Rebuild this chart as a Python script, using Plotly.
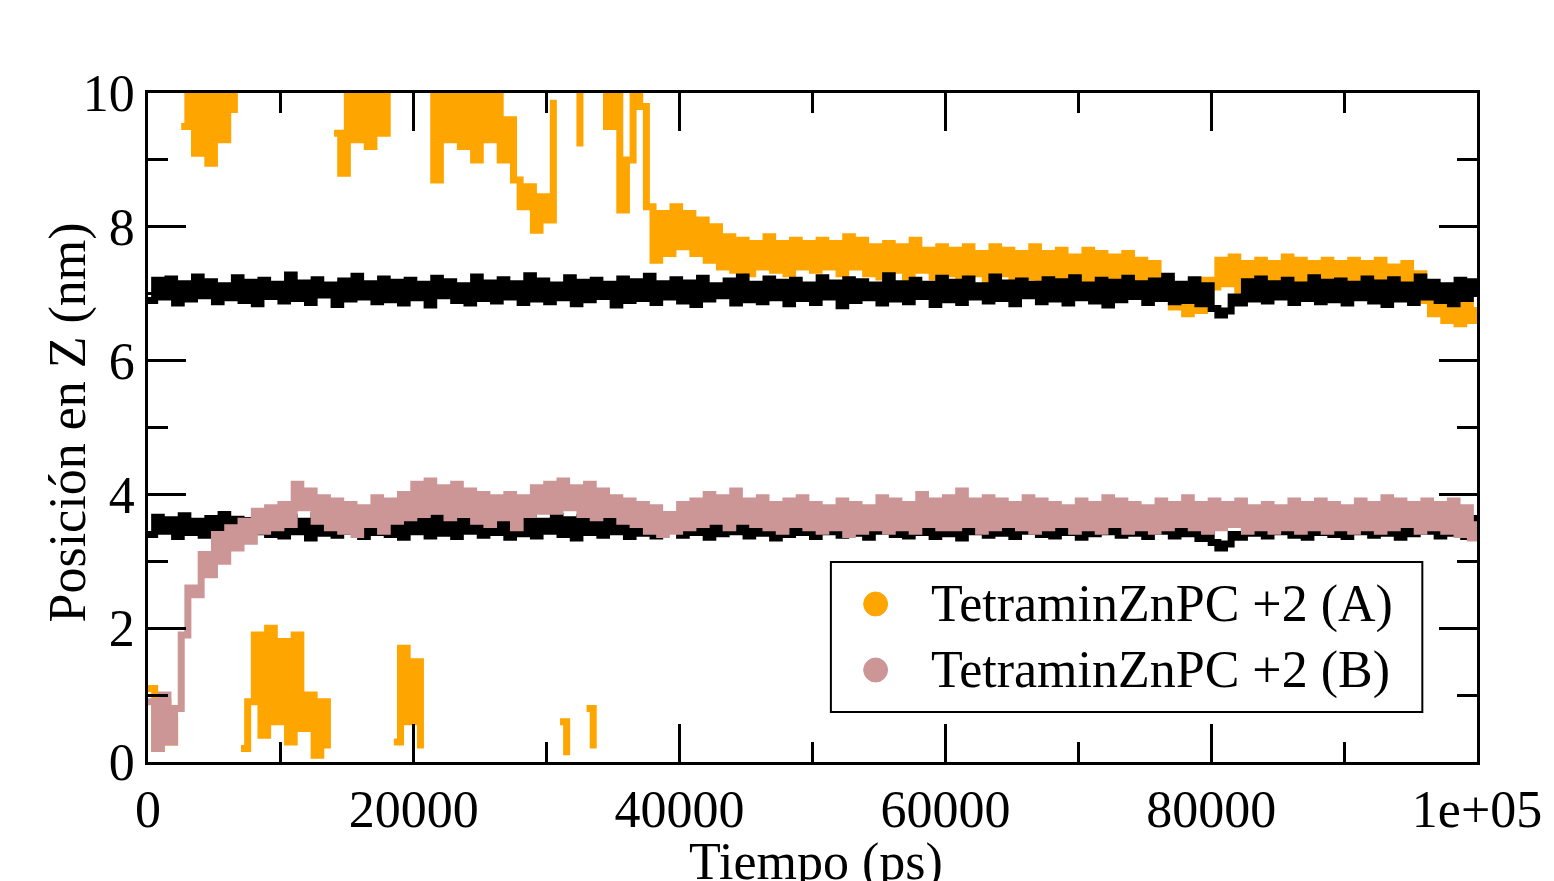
import plotly.graph_objects as go

# ---------------- data ----------------
time_ps = list(range(0, 100001, 500))  # 201 samples, 0 .. 1e5 ps

# upper membrane reference (black)
ref_upper = [
    6.90, 7.20, 6.95, 7.22, 6.86, 7.15, 6.92, 7.25, 6.97, 7.18, 6.88, 7.12, 6.94, 7.24, 6.90, 7.17, 6.85, 7.20, 6.96, 7.14,
    6.89, 7.28, 6.93, 7.16, 6.87, 7.21, 6.98, 7.13, 6.84, 7.19, 6.92, 7.26, 6.95, 7.15, 6.88, 7.22, 6.91, 7.17, 6.86, 7.20,
    6.94, 7.14, 6.83, 7.23, 6.97, 7.18, 6.90, 7.12, 6.86, 7.25, 6.93, 7.16, 6.89, 7.21, 6.95, 7.15, 6.87, 7.27, 6.92, 7.19,
    6.88, 7.13, 6.94, 7.24, 6.85, 7.17, 6.91, 7.20, 6.96, 7.14, 6.83, 7.22, 6.90, 7.18, 6.93, 7.26, 6.87, 7.15, 6.95, 7.21,
    6.89, 7.16, 6.84, 7.23, 6.92, 7.12, 6.97, 7.19, 6.86, 7.25, 6.91, 7.14, 6.88, 7.22, 6.94, 7.17, 6.85, 7.20, 6.93, 7.13,
    6.87, 7.24, 6.95, 7.16, 6.82, 7.21, 6.90, 7.18, 6.94, 7.13, 6.86, 7.27, 6.92, 7.15, 6.88, 7.20, 6.96, 7.14, 6.84, 7.23,
    6.91, 7.17, 6.87, 7.22, 6.95, 7.12, 6.89, 7.25, 6.93, 7.16, 6.85, 7.19, 6.97, 7.14, 6.88, 7.21, 6.92, 7.18, 6.86, 7.24,
    6.94, 7.13, 6.89, 7.20, 6.83, 7.17, 6.91, 7.23, 6.96, 7.15, 6.87, 7.19, 6.93, 7.26, 6.88, 7.14, 6.90, 7.21, 6.85, 7.12,
    6.78, 6.68, 6.74, 6.95, 6.86, 7.18, 6.92, 7.22, 6.89, 7.15, 6.95, 7.20, 6.87, 7.13, 6.93, 7.24, 6.88, 7.17, 6.91, 7.19,
    6.86, 7.14, 6.94, 7.22, 6.89, 7.16, 6.84, 7.21, 6.92, 7.13, 6.87, 7.25, 6.95, 7.17, 6.90, 7.12, 6.85, 7.20, 6.93, 7.18,
    6.95,
]

# lower membrane reference (black)
ref_lower = [
    3.40, 3.66, 3.45, 3.62, 3.37, 3.68, 3.43, 3.60, 3.39, 3.64, 3.46, 3.70, 3.41, 3.63, 3.36, 3.61, 3.44, 3.67, 3.40, 3.62,
    3.38, 3.65, 3.44, 3.60, 3.35, 3.69, 3.42, 3.63, 3.39, 3.66, 3.45, 3.61, 3.37, 3.68, 3.43, 3.64, 3.40, 3.62, 3.36, 3.67,
    3.44, 3.60, 3.38, 3.65, 3.42, 3.70, 3.37, 3.63, 3.45, 3.61, 3.39, 3.66, 3.43, 3.62, 3.36, 3.68, 3.41, 3.64, 3.38, 3.60,
    3.45, 3.67, 3.40, 3.62, 3.35, 3.65, 3.43, 3.61, 3.39, 3.69, 3.44, 3.63, 3.37, 3.66, 3.42, 3.60, 3.38, 3.64, 3.46, 3.62,
    3.39, 3.68, 3.43, 3.61, 3.36, 3.65, 3.41, 3.63, 3.44, 3.60, 3.38, 3.67, 3.42, 3.62, 3.35, 3.66, 3.40, 3.64, 3.43, 3.61,
    3.37, 3.69, 3.44, 3.62, 3.39, 3.66, 3.42, 3.60, 3.36, 3.64, 3.45, 3.68, 3.40, 3.61, 3.38, 3.65, 3.43, 3.63, 3.37, 3.67,
    3.41, 3.62, 3.35, 3.66, 3.44, 3.60, 3.39, 3.69, 3.42, 3.63, 3.37, 3.65, 3.45, 3.61, 3.40, 3.67, 3.38, 3.62, 3.43, 3.64,
    3.36, 3.68, 3.41, 3.61, 3.44, 3.65, 3.39, 3.62, 3.42, 3.67, 3.37, 3.63, 3.45, 3.60, 3.38, 3.66, 3.41, 3.62, 3.34, 3.58,
    3.28, 3.20, 3.26, 3.40, 3.36, 3.64, 3.42, 3.61, 3.38, 3.67, 3.44, 3.62, 3.39, 3.65, 3.36, 3.68, 3.43, 3.60, 3.40, 3.66,
    3.37, 3.63, 3.44, 3.61, 3.39, 3.69, 3.42, 3.62, 3.36, 3.65, 3.41, 3.60, 3.45, 3.67, 3.38, 3.63, 3.42, 3.61, 3.37, 3.64,
    3.40,
]

# TetraminZnPC +2 (A) - wrapped z coordinate (values > 10 fall outside the axis)
series_a = [
    1.1, 0.2, 0.9, 0.3, 0.7,
    9.5, 10.4, 9.1, 10.5, 8.95, 10.3, 9.3, 10.4, 9.7,
    0.2, 0.9, 1.9, 0.4, 2.0, 0.6, 1.8, 0.3, 1.9, 0.5, 1.0, 0.1, 0.9, 0.2,
    9.4, 8.8, 10.4, 9.3, 10.5, 9.2, 10.4, 9.4, 10.3,
    0.3, 1.7, 0.6, 1.5, 0.2,
    10.4, 8.7, 10.5, 9.3, 10.4, 9.2, 10.5, 9.0, 10.4, 9.3,
    10.2, 9.0, 9.6, 8.7, 8.3, 8.6, 7.95, 8.45, 8.1, 9.9,
    0.6, 0.1,
    10.4, 9.2,
    0.8, 0.2,
    10.4, 9.5, 10.2, 8.25, 9.0, 10.4, 9.8, 8.3,
    7.5, 8.2, 7.6, 8.3, 7.7, 8.2, 7.6, 8.1, 7.5, 8.0, 7.4, 7.85, 7.35, 7.8, 7.3, 7.75, 7.4, 7.85, 7.35, 7.75, 7.3, 7.8, 7.4, 7.75,
    7.35, 7.8, 7.4, 7.75, 7.3, 7.85, 7.4, 7.8, 7.3, 7.7, 7.25, 7.75, 7.35, 7.7, 7.25, 7.8, 7.35, 7.65, 7.25, 7.7,
    7.3, 7.65, 7.25, 7.7, 7.3, 7.6, 7.2, 7.7, 7.3, 7.65, 7.2, 7.6, 7.25, 7.7, 7.15, 7.6, 7.25, 7.65, 7.15, 7.55,
    7.2, 7.65, 7.15, 7.6, 7.25, 7.55, 7.1, 7.6, 7.2, 7.5, 7.1, 7.45, 7.0, 7.2, 6.8, 7.0, 6.7, 6.95, 6.75, 7.2,
    7.1, 7.5, 7.15, 7.55, 7.05, 7.45, 7.15, 7.5, 7.1, 7.45, 7.2, 7.55, 7.1, 7.5, 7.15, 7.45, 7.05, 7.5, 7.15, 7.45,
    7.05, 7.5, 7.1, 7.45, 7.15, 7.5, 7.05, 7.4, 7.1, 7.45, 7.0, 7.3, 6.9, 6.7, 6.95, 6.6, 6.9, 6.55, 6.85, 6.6, 6.8,
]

# TetraminZnPC +2 (B)
series_b = [
    0.9, 0.2, 1.0, 0.3, 0.8,
    1.9, 2.6, 2.5, 3.1, 2.8, 3.4, 3.0, 3.5, 3.2, 3.6, 3.3, 3.75, 3.45, 3.8, 3.5,
    3.85, 3.55, 4.15, 3.8, 4.05, 3.6, 3.95, 3.5, 3.9, 3.45, 3.85, 3.4, 3.8, 3.55, 3.95, 3.45, 3.9, 3.6, 4.0, 3.65,
    4.15, 3.7, 4.2, 3.75, 4.1, 3.65, 4.15, 3.7, 4.05, 3.6, 4.0, 3.55, 3.95, 3.65, 4.0, 3.5, 3.95, 3.7, 4.1, 3.75,
    4.15, 3.75, 4.2, 3.8, 4.1, 3.7, 4.15, 3.65, 4.05, 3.7, 3.95, 3.6, 3.9, 3.55, 3.85, 3.45, 3.8, 3.4, 3.7, 3.45,
    3.85, 3.5, 3.9, 3.55, 4.0, 3.6, 3.95, 3.5, 4.05, 3.6, 3.9, 3.55, 3.95, 3.5, 3.85, 3.45, 3.9, 3.55, 3.95, 3.5,
    3.85, 3.45, 3.8, 3.5, 3.9, 3.4, 3.85, 3.45, 3.8, 3.5, 3.95, 3.45, 3.9, 3.5, 3.85, 3.45, 4.0, 3.55, 3.9, 3.5,
    3.95, 3.5, 4.05, 3.55, 3.9, 3.45, 3.95, 3.5, 3.9, 3.55, 3.85, 3.5, 3.95, 3.45, 3.9, 3.5, 3.85, 3.55, 3.8, 3.45,
    3.9, 3.5, 3.85, 3.45, 3.95, 3.55, 3.9, 3.45, 3.85, 3.5, 3.8, 3.45, 3.9, 3.5, 3.85, 3.55, 3.95, 3.5, 3.85, 3.45,
    3.9, 3.5, 3.85, 3.55, 3.9, 3.45, 3.8, 3.5, 3.85, 3.45, 3.8, 3.5, 3.9, 3.45, 3.85, 3.5, 3.9, 3.45, 3.85, 3.5,
    3.8, 3.45, 3.9, 3.5, 3.85, 3.45, 3.95, 3.5, 3.9, 3.55, 3.85, 3.45, 3.9, 3.5, 3.85, 3.45, 3.9, 3.4, 3.8, 3.35, 3.6,
]

x_tickvals = [0, 20000, 40000, 60000, 80000, 100000]
x_ticktext = ["0", "20000", "40000", "60000", "80000", "1e+05"]
x_minor = [10000, 30000, 50000, 70000, 90000]
y_tickvals = [0, 2, 4, 6, 8, 10]
y_ticktext = ["0", "2", "4", "6", "8", "10"]
y_minor = [1, 3, 5, 7, 9]

legend_labels = ["TetraminZnPC +2 (A)", "TetraminZnPC +2 (B)"]
color_a = "#FFA500"
color_b = "rgb(205,150,150)"

for name, arr in [("ref_upper", ref_upper), ("ref_lower", ref_lower),
                  ("series_a", series_a), ("series_b", series_b)]:
    if len(arr) != len(time_ps):
        raise ValueError(f"{name} has {len(arr)} values, expected {len(time_ps)}")


def split_wraps(xs, ys, jump=5.0):
    """Break the line where the periodic coordinate wraps around."""
    ox, oy = [xs[0]], [ys[0]]
    for k in range(1, len(ys)):
        if abs(ys[k] - ys[k - 1]) > jump:
            ox.append(None)
            oy.append(None)
        ox.append(xs[k])
        oy.append(ys[k])
    return ox, oy


FONT = "Liberation Serif, Times New Roman, serif"
W, H = 1554, 881
L, R, T, B = 148, 69, 93, 119
PW, PH = W - L - R, H - T - B
LW = 7


def px(xpix):
    return (xpix - L) / PW


def py(ypix):
    return (H - B - ypix) / PH


fig = go.Figure()

ax, ay = split_wraps(time_ps, series_a)
fig.add_trace(go.Scatter(x=ax, y=ay, mode="lines", name=legend_labels[0],
                         line=dict(color=color_a, width=LW, shape="hv"),
                         connectgaps=False, showlegend=False))
fig.add_trace(go.Scatter(x=time_ps, y=ref_upper, mode="lines", name="ref upper",
                         line=dict(color="black", width=LW, shape="hv"), showlegend=False))
fig.add_trace(go.Scatter(x=time_ps, y=ref_lower, mode="lines", name="ref lower",
                         line=dict(color="black", width=LW, shape="hv"), showlegend=False))
fig.add_trace(go.Scatter(x=time_ps, y=series_b, mode="lines", name=legend_labels[1],
                         line=dict(color=color_b, width=LW, shape="hv"), showlegend=False))

axis_common = dict(
    showgrid=False, zeroline=False, showline=True, linecolor="black", linewidth=2.5,
    mirror="ticks", ticks="inside", ticklen=38, tickwidth=2.5, tickcolor="black",
    tickfont=dict(family=FONT, size=52, color="black"),
    tickmode="array",
)

fig.update_xaxes(**axis_common, range=[0, 100000], tickvals=x_tickvals, ticktext=x_ticktext,
                 minor=dict(tickmode="array", tickvals=x_minor, ticks="inside", ticklen=20,
                            tickwidth=2.5, tickcolor="black"))
fig.update_yaxes(**axis_common, range=[0, 10], tickvals=y_tickvals, ticktext=y_ticktext,
                 minor=dict(tickmode="array", tickvals=y_minor, ticks="inside", ticklen=20,
                            tickwidth=2.5, tickcolor="black"))

shapes = [
    dict(type="rect", xref="paper", yref="paper", x0=px(835), x1=px(1430), y0=py(712), y1=py(562),
         fillcolor="white", line=dict(color="black", width=2), layer="above"),
    dict(type="circle", xref="paper", yref="paper", x0=px(868), x1=px(892), y0=py(616), y1=py(592),
         fillcolor=color_a, line=dict(color=color_a, width=1), layer="above"),
    dict(type="circle", xref="paper", yref="paper", x0=px(868), x1=px(892), y0=py(682), y1=py(658),
         fillcolor=color_b, line=dict(color=color_b, width=1), layer="above"),
]

annotations = [
    dict(text=legend_labels[0], xref="paper", yref="paper", x=px(934), y=py(604),
         xanchor="left", yanchor="middle", showarrow=False,
         font=dict(family=FONT, size=52, color="black")),
    dict(text=legend_labels[1], xref="paper", yref="paper", x=px(934), y=py(670),
         xanchor="left", yanchor="middle", showarrow=False,
         font=dict(family=FONT, size=52, color="black")),
    dict(text="Tiempo (ps)", xref="paper", yref="paper", x=px(820), y=py(862),
         xanchor="center", yanchor="middle", showarrow=False,
         font=dict(family=FONT, size=52, color="black")),
    dict(text="Posición en Z (nm)", xref="paper", yref="paper", x=px(68), y=py(422),
         xanchor="center", yanchor="middle", showarrow=False, textangle=-90,
         font=dict(family=FONT, size=52, color="black")),
    # bottom of the x-axis title of the panel above, cut by the page edge
    dict(text="Tiempo (ps)", xref="paper", yref="paper", x=px(837), y=py(-29),
         xanchor="center", yanchor="middle", showarrow=False,
         font=dict(family=FONT, size=52, color="#222222")),
]

fig.update_layout(
    width=W, height=H,
    margin=dict(l=L, r=R, t=T, b=B, pad=0),
    paper_bgcolor="white", plot_bgcolor="white",
    showlegend=False,
    shapes=shapes, annotations=annotations,
    font=dict(family=FONT, size=52, color="black"),
)

fig.write_html("out.html")
